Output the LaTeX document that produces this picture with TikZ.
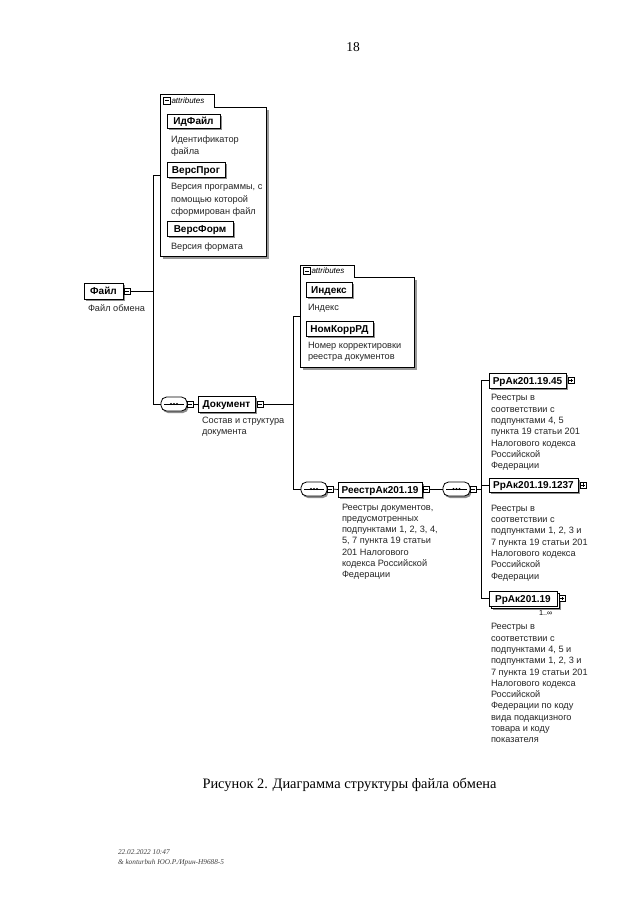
\documentclass[tikz,border=0pt]{standalone}
\usepackage{fontspec}
\setmainfont{Liberation Serif}
\setsansfont{Liberation Sans}
\newcommand\elembox[6]{%
  \fill[black!45] ({#2+2},{#3+2}) rectangle ({#4+2},{#5+2});
  \node[elbox, minimum width={#4-#2}, minimum height={#5-#3}] (#1) at ({(#2+#4)/2},{(#3+#5)/2}) {#6};
}
\newcommand\multibox[6]{%
  \fill[black!45] ({#2+4},{#3+4}) rectangle ({#4+4},{#5+4});
  \draw[fill=white, line width=0.7pt] ({#2+2.5},{#3+2.5}) rectangle ({#4+2.5},{#5+2.5});
  \node[elbox, minimum width={#4-#2}, minimum height={#5-#3}] (#1) at ({(#2+#4)/2},{(#3+#5)/2}) {#6};
}
\newcommand\minusbox[3]{%
  \node[pmsq] (#1) at ({#2+3},{#3}) {};
  \draw[line width=0.6pt] ({#2+1.2},{#3}) -- ({#2+4.8},{#3});
}
\newcommand\plusbox[3]{%
  \node[pmsq] (#1) at ({#2+3},{#3}) {};
  \draw[line width=0.6pt] ({#2+1.2},{#3}) -- ({#2+4.8},{#3});
  \draw[line width=0.6pt] ({#2+3},{#3-1.8}) -- ({#2+3},{#3+1.8});
}
\newcommand\seqsym[4]{%
  \fill[black!45, rounded corners=5.5pt] ({#2+1.5},{#4-5}) rectangle ({#3+1.5},{#4+9});
  \node[draw, fill=white, rounded corners=5.5pt, minimum width={#3-#2}, minimum height=14pt, line width=0.8pt] (#1) at ({(#2+#3)/2},{#4}) {};
  \draw[line width=0.7pt] ({#2+3},{#4}) -- ({#3-3},{#4});
  \foreach \d in {-3,0,3} \fill ({(#2+#3)/2+\d},{#4}) circle (1.1pt);
}
% #1 name, #2 l, #3 tab top, #4 tab right, #5 box top, #6 r, #7 b
\newcommand\attrbox[7]{%
  \fill[black!40] ({#2+2.5},{#5+2.5}) rectangle ({#6+2.5},{#7+2.5});
  \draw[fill=white, line width=0.6pt] ({#2},{#3}) -- ({#4},{#3}) -- ({#4},{#5}) -- ({#6},{#5}) -- ({#6},{#7}) -- ({#2},{#7}) -- cycle;
  \node[pmsq, minimum size=7pt] (#1m) at ({#2+6.5},{(#3+#5)/2}) {};
  \draw[line width=0.6pt] ({#2+4.5},{(#3+#5)/2}) -- ({#2+8.5},{(#3+#5)/2});
  \node[anchor=west, font=\sffamily\itshape\fontsize{8}{9}\selectfont] (#1t) at ({#2+11.5},{(#3+#5)/2}) {attributes};
}
\begin{document}
\begin{tikzpicture}[x=1pt,y=-1pt,
  every node/.style={inner sep=0pt, outer sep=0pt},
  elbox/.style={draw=black, fill=white, line width=0.8pt, font=\sffamily\bfseries\fontsize{10}{12}\selectfont, text height=7.3pt, text depth=0pt},
  pmsq/.style={draw=black, fill=white, minimum size=6pt, line width=0.5pt},
  desc/.style={anchor=north west, align=left, font=\sffamily\fontsize{9.2}{11.3}\selectfont, text=black!85},
  descl/.style={desc, font=\sffamily\fontsize{9.2}{12.2}\selectfont},
  conn/.style={line width=0.7pt}]
\useasboundingbox[fill=white] (0,0) rectangle (640,905);

% page number
\node[font=\fontsize{13.5}{14}\selectfont] (pnum) at (353,47) {18};

% ---------- first attributes box ----------
\attrbox{at1}{160}{94}{214}{107}{266}{256}
\coordinate (at1) at (160,175);
\elembox{idfile}{167}{114}{220}{128}{ИдФайл}
\node[descl] (didfile) at (171,135.5) {Идентификатор\\файла};
\elembox{versprog}{167}{162}{225}{177}{ВерсПрог}
\node[descl] (dversprog) at (171,183.5) {Версия программы, с\\помощью которой\\сформирован файл};
\elembox{versform}{167}{221}{233}{236}{ВерсФорм}
\node[descl] (dversform) at (171,242.5) {Версия формата};

% ---------- root ----------
\elembox{file}{84}{283}{123}{299}{Файл}
\minusbox{filem}{124}{291}
\node[desc] (dfile) at (88,304.7) {Файл обмена};

\coordinate (j1) at (153,291);
\coordinate (j1t) at (153,175);
\coordinate (j1b) at (153,404);
\draw[conn] (filem.east) -- (j1);
\draw[conn] (j1t) -- (j1b);
\draw[conn] (j1t) -- (at1);

% sequence 1 and Документ
\seqsym{seq1}{161}{187}{404}
\minusbox{seq1m}{187}{404}
\draw[conn] (j1b) -- (seq1.west);
\elembox{doc}{198}{396}{255}{412}{Документ}
\minusbox{docm}{257}{404}
\draw[conn] (seq1m.east) -- (doc.west);
\node[desc] (ddoc) at (202,416.7) {Состав и структура\\документа};

% ---------- second attributes box ----------
\attrbox{at2}{300}{265}{354}{277}{414}{367}
\coordinate (at2) at (300,316);
\elembox{index}{306}{282}{352}{297}{Индекс}
\node[desc] (dindex) at (308,303.7) {Индекс};
\elembox{nomkorr}{306}{321}{373}{336}{НомКоррРД}
\node[desc] (dnomkorr) at (308,341.7) {Номер корректировки\\реестра документов};

\coordinate (j2) at (293,404);
\coordinate (j2t) at (293,316);
\coordinate (j2b) at (293,489);
\draw[conn] (docm.east) -- (j2);
\draw[conn] (j2t) -- (j2b);
\draw[conn] (j2t) -- (at2);

% sequence 2 and РеестрАк201.19
\seqsym{seq2}{301}{327}{489}
\minusbox{seq2m}{327}{489}
\draw[conn] (j2b) -- (seq2.west);
\elembox{reestr}{338}{482}{422}{497}{РеестрАк201.19}
\minusbox{reestrm}{423}{489}
\draw[conn] (seq2m.east) -- (reestr.west);
\node[desc] (dreestr) at (342,503.7) {Реестры документов,\\предусмотренных\\подпунктами 1, 2, 3, 4,\\5, 7 пункта 19 статьи\\201 Налогового\\кодекса Российской\\Федерации};

% sequence 3
\seqsym{seq3}{443}{470}{489}
\minusbox{seq3m}{470}{489}
\draw[conn] (reestrm.east) -- (seq3.west);
\coordinate (j3) at (481,489);
\coordinate (j3t) at (481,380.5);
\coordinate (j3m) at (481,485);
\coordinate (j3b) at (481,598.5);
\draw[conn] (seq3m.east) -- (j3);
\draw[conn] (j3t) -- (j3b);

% children
\elembox{r45}{489}{373}{566}{388}{РрАк201.19.45}
\plusbox{r45p}{568}{380.5}
\draw[conn] (j3t) -- (r45.west);
\node[desc] (dr45) at (491,394.5) {Реестры в\\соответствии с\\подпунктами 4, 5\\пункта 19 статьи 201\\Налогового кодекса\\Российской\\Федерации};

\elembox{r1237}{489}{478}{578}{492}{РрАк201.19.1237}
\plusbox{r1237p}{580}{485}
\draw[conn] (j3m) -- (r1237.west);
\node[desc] (dr1237) at (491,505) {Реестры в\\соответствии с\\подпунктами 1, 2, 3 и\\7 пункта 19 статьи 201\\Налогового кодекса\\Российской\\Федерации};

\multibox{r19}{489}{591}{557}{606}{РрАк201.19}
\plusbox{r19p}{559}{598.5}
\draw[conn] (j3b) -- (r19.west);
\node[font=\sffamily\fontsize{7.3}{8}\selectfont, anchor=west] (occ) at (539,612.5) {1..∞};
\node[desc] (dr19) at (491,623.5) {Реестры в\\соответствии с\\подпунктами 4, 5 и\\подпунктами 1, 2, 3 и\\7 пункта 19 статьи 201\\Налогового кодекса\\Российской\\Федерации по коду\\вида подакцизного\\товара и коду\\показателя};

% caption
\node[font=\fontsize{14.4}{16}\selectfont] (caption) at (349.5,785) {Рисунок 2. Диаграмма структуры файла обмена};

% footer
\node[anchor=north west, align=left, font=\itshape\fontsize{7.3}{9.5}\selectfont, text=black!75] (footer) at (118,850) {22.02.2022 10:47\\\& konturbuh ЮО.Р./Ирин-Н9688-5};
\end{tikzpicture}
\end{document}
